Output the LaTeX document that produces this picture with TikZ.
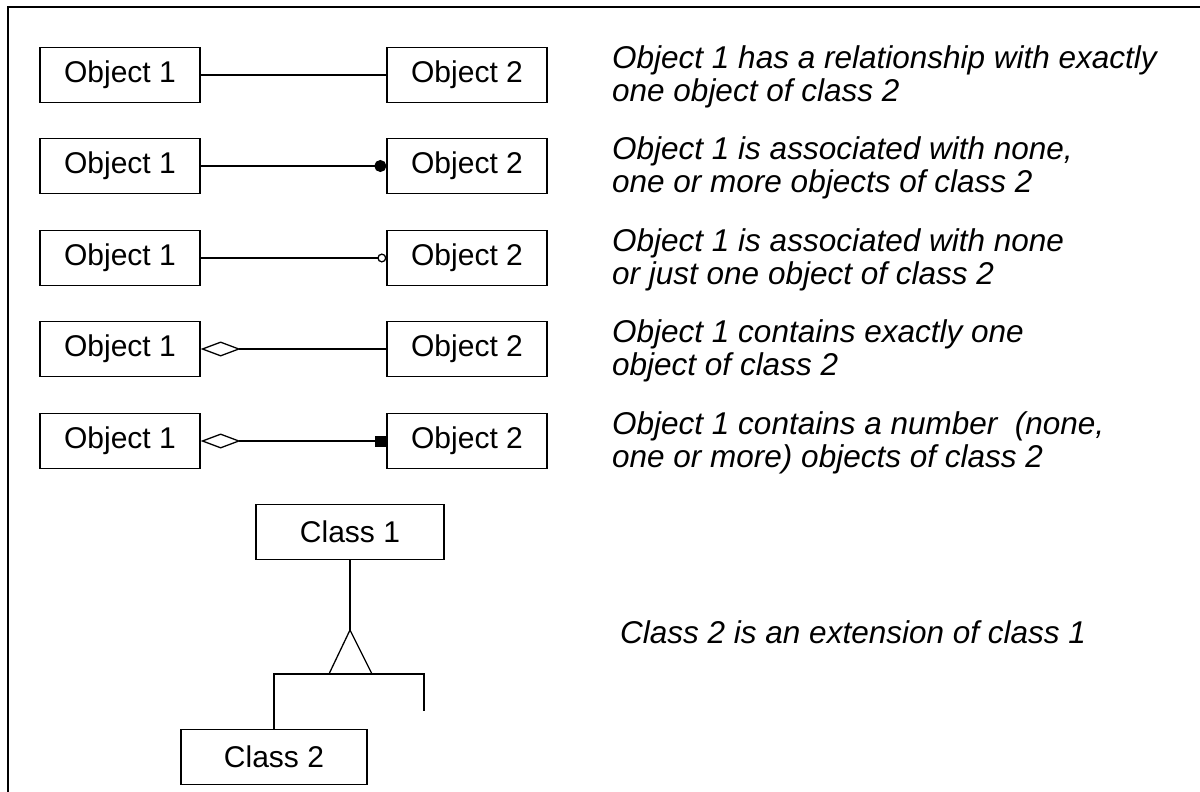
\documentclass[tikz,border=0pt]{standalone}
\usepackage{fontspec}
\setmainfont{Liberation Sans}
\usetikzlibrary{arrows.meta}
\begin{document}
\begin{tikzpicture}[x=1pt,y=-1pt,
  objbox/.style={draw,line width=1.3pt,minimum width=160pt,minimum height=55pt,
    inner sep=0pt,font=\fontsize{30}{34}\selectfont},
  desc/.style={anchor=west,align=left,inner sep=0pt,
    font=\fontsize{31.5}{33}\selectfont\itshape},
  link/.style={line width=1.3pt}]
\useasboundingbox (0,0) rectangle (1200,792);
% open frame: left and top edges only
\draw[line width=2pt] (8,792) -- (8,7) -- (1200,7);

% association rows
\foreach \r/\y in {1/75,2/166,3/258,4/349,5/441}{
  \node[objbox] (a\r) at (120,\y) {Object 1};
  \node[objbox] (b\r) at (467,\y) {Object 2};
}
\draw[link] (a1) -- (b1);
\draw[link,-{Circle[length=12pt,width=12pt]}] (a2) -- (b2);
\draw[link,-{Circle[open,length=9pt,width=9pt]}] (a3) -- (b3);
\draw[link,{Diamond[open,length=40pt,width=15pt]}-] (a4) -- (b4);
\draw[link,{Diamond[open,length=40pt,width=15pt]}-{Square[length=11pt,width=11pt]}] (a5) -- (b5);

\node[desc] (t1) at (612,77) {Object 1 has a relationship with exactly\\one object of class 2};
\node[desc] (t2) at (612,168) {Object 1 is associated with none,\\one or more objects of class 2};
\node[desc] (t3) at (612,260) {Object 1 is associated with none\\or just one object of class 2};
\node[desc] (t4) at (612,351) {Object 1 contains exactly one\\object of class 2};
\node[desc] (t5) at (612,443) {Object 1 contains a number\ \ (none,\\one or more) objects of class 2};

% generalisation
\node[objbox,minimum width=188pt] (c1) at (350,532) {Class 1};
\node[objbox,minimum width=186pt] (c2) at (274,757) {Class 2};
\coordinate (apex) at (350,630);
\coordinate (bl) at (329,674);
\coordinate (br) at (372,674);
\coordinate (rend) at (424,711);
\draw[link] (c1.south) -- (apex);
\draw[link,line join=miter] (apex) -- (bl) -- (br) -- cycle;
\draw[link] (c2.north) -- (c2.north |- bl) -- (rend |- bl) -- (rend);
\node[desc] (t6) at (620,632) {Class 2 is an extension of class 1};
\end{tikzpicture}
\end{document}
